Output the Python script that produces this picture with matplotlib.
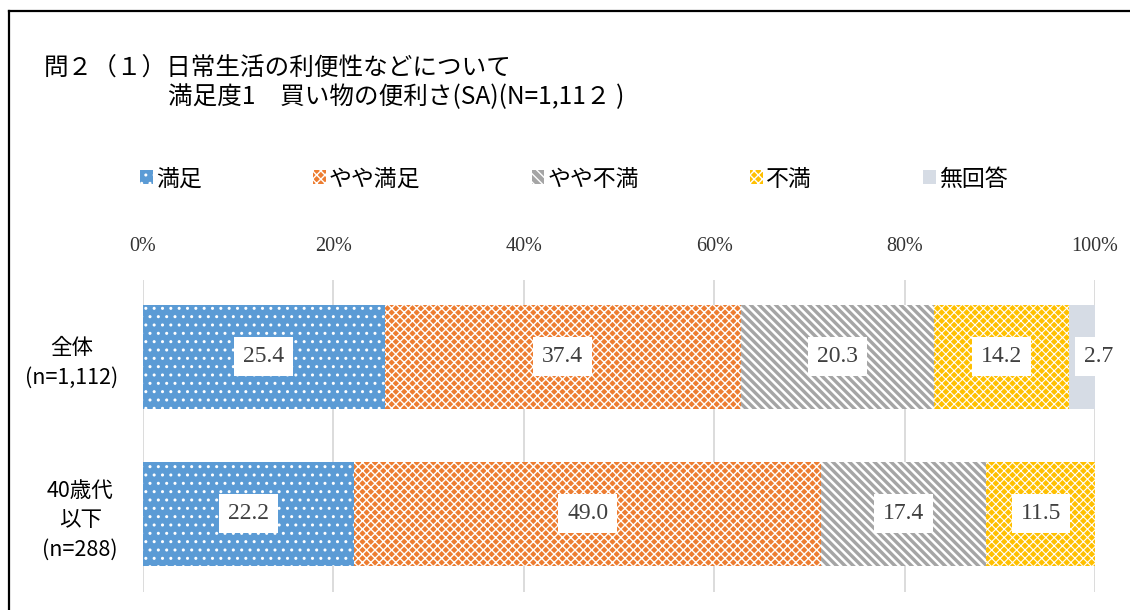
import matplotlib
matplotlib.use("Agg")
import matplotlib.pyplot as plt
import numpy as np
from matplotlib.lines import Line2D

plt.rcParams['font.family'] = ['Noto Sans CJK JP', 'DejaVu Sans']

categories = ["全体\n(n=1,112)", "40歳代\n以下\n(n=288)"]
series_names = ["満足", "やや満足", "やや不満", "不満", "無回答"]
v_manzoku = [25.4, 22.2]
v_yaya_manzoku = [37.4, 49.0]
v_yaya_fuman = [20.3, 17.4]
v_fuman = [14.2, 11.5]
v_mukaitou = [2.7, 0.0]
xticks = [0, 20, 40, 60, 80, 100]
xtick_labels = ["0%", "20%", "40%", "60%", "80%", "100%"]
title_lines = ["問２（１）日常生活の利便性などについて", "満足度1　買い物の便利さ(SA)(N=1,11２ )"]

series = [v_manzoku, v_yaya_manzoku, v_yaya_fuman, v_fuman, v_mukaitou]
colors = ["#5B9BD5", "#ED7D31", "#A5A5A5", "#FFC000", "#D6DCE5"]
BS = chr(92)
hatches = ["..", "xxxx", BS * 4, "xxxx", None]
hatch_lw = [1.0, 1.0, 1.8, 0.8, 1.0]

fig = plt.figure(figsize=(11.3, 6.1), dpi=100)
W, H = 1130, 610
ax = fig.add_axes([143 / W, 1 - 592 / H, 952 / W, 312 / H])

y = np.arange(len(categories))
left = np.zeros(len(categories))
handles = []
for name, vals, c, h, hl in zip(series_names, series, colors, hatches, hatch_lw):
    vals = np.array(vals)
    with plt.rc_context({'hatch.linewidth': hl}):
        bars = ax.barh(y, vals, left=left, height=0.662, color=c,
                       edgecolor='white' if h else c, linewidth=0, hatch=h,
                       zorder=2, label=name)
        for b in bars:
            if hasattr(b, "set_hatch_linewidth"):
                b.set_hatch_linewidth(hl)
    handles.append(bars)
    for i, v in enumerate(vals):
        if v <= 0:
            continue
        cx = left[i] + v / 2
        off = 12 if v < 5 else 0
        ax.annotate(f"{v:.1f}", xy=(cx, y[i]), xytext=(off, 0),
                    textcoords="offset points", ha='center', va='center',
                    fontsize=17, color='#404040', family='Liberation Serif',
                    zorder=5,
                    bbox=dict(boxstyle='square,pad=0.38', fc='white', ec='none'))
    left = left + vals

ax.set_xlim(0, 100)
ax.set_ylim(1.497, -0.49)
ax.set_xticks(xticks)
ax.set_xticklabels(xtick_labels, family='Liberation Serif', fontsize=14.5, color='#333333')
ax.xaxis.tick_top()
ax.tick_params(axis='x', length=0, pad=17)
ax.set_yticks(y)
ax.set_yticklabels(categories, fontsize=15.5, multialignment='center', linespacing=1.45)
ax.tick_params(axis='y', length=0, pad=18)
ax.grid(axis='x', color='#D9D9D9', linewidth=1.3, zorder=0)
ax.set_axisbelow(True)
for s in ax.spines.values():
    s.set_visible(False)

# legend
leg = fig.legend(handles=handles, labels=series_names, loc='center left',
                 bbox_to_anchor=(124 / W, 1 - 179 / H), ncol=5, frameon=False,
                 fontsize=16.5, handlelength=0.55, handleheight=0.55,
                 handletextpad=0.15, columnspacing=4.85, borderpad=0.2)

# title
fig.text(44 / W, 1 - 68 / H, title_lines[0], fontsize=17.7, va='center', ha='left')
fig.text(168 / W, 1 - 97 / H, title_lines[1], fontsize=17.7, va='center', ha='left')

# outer frame (top and left)
fig.add_artist(Line2D([9 / W, 9 / W], [0, 1 - 11 / H], transform=fig.transFigure,
                      color='black', linewidth=1.6))
fig.add_artist(Line2D([9 / W, 1], [1 - 11 / H, 1 - 11 / H], transform=fig.transFigure,
                      color='black', linewidth=1.6))

fig.savefig("out.png", dpi=100, facecolor='white')
